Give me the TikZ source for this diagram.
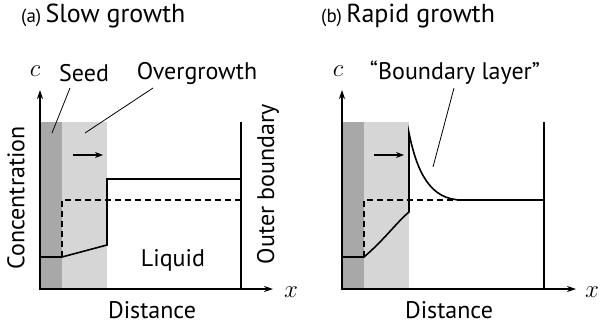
\documentclass[tikz,border=0pt]{standalone}
\usepackage{fontspec}
\setmainfont{PT Sans}
\usetikzlibrary{arrows.meta,positioning}

\definecolor{seedgray}{RGB}{168,168,168}
\definecolor{overgray}{RGB}{214,214,214}

\begin{document}
\begin{tikzpicture}[x=1pt,y=-1pt,
    axis/.style={{Stealth[length=9pt,width=6pt]}-{Stealth[length=9pt,width=6pt]},
                 line width=1.3pt, line join=miter},
    prof/.style={line width=1.6pt, line join=miter},
    bulk/.style={line width=1.4pt, dashed, dash pattern=on 6pt off 4pt},
    wall/.style={line width=1.2pt},
    leader/.style={line width=0.8pt},
    move/.style={-{Stealth[length=8pt,width=6pt]}, line width=1.2pt},
    lab/.style={font=\fontsize{24}{26}\selectfont, inner sep=1pt},
    sym/.style={font=\fontsize{24}{26}\selectfont, inner sep=1pt},
    title/.style={font=\fontsize{26}{28}\selectfont, inner sep=0pt, anchor=base west}
  ]
  \useasboundingbox (0,0) rectangle (600,324);

  % (a) slow growth
  \node[title] (aTitle) at (21,22) {{\fontsize{19}{21}\selectfont(a)}\,Slow growth};
  \fill[seedgray] (40,122) rectangle (62,289);
  \fill[overgray] (62,122) rectangle (107,289);
  \coordinate (aO) at (40,289);
  \coordinate (aYtip) at (40,90);
  \coordinate (aXtip) at (273,289);
  \draw[axis] (aYtip) |- (aXtip);
  \node[sym] (aC) at (35,71) {$c$};
  \node[sym] (aX) at (291,292) {$x$};
  \draw[wall] (241,122) -- (241,289);
  \draw[bulk] (62,257) -- (62,200) -- (241,200);
  \draw[prof] (40,257) -- (62,257) -- (107,245) -- (107,179) -- (241,179);
  \draw[move] (73,155) -- (103,155);
  \node[lab] (aSeed) at (84,73) {Seed};
  \node[lab] (aOver) at (197,73) {Overgrowth};
  \coordinate (aSeedEnd) at (52,133);
  \coordinate (aOverEnd) at (85,133);
  \draw[leader] (70,88) -- (aSeedEnd);
  \draw[leader] (153,88) -- (aOverEnd);
  \node[lab, rotate=90] (aConc) at (16,198) {Concentration};
  \node[lab, rotate=90] (aWall) at (268,184) {Outer boundary};
  \node[lab] (aLiq) at (173,260) {Liquid};
  \node[lab] (aDist) at (152,310) {Distance};

  % (b) rapid growth
  \node[title] (bTitle) at (321,22) {{\fontsize{19}{21}\selectfont(b)}\,Rapid growth};
  \fill[seedgray] (342,122) rectangle (364,289);
  \fill[overgray] (364,122) rectangle (409,289);
  \coordinate (bO) at (342,289);
  \coordinate (bYtip) at (342,90);
  \coordinate (bXtip) at (576,289);
  \draw[axis] (bYtip) |- (bXtip);
  \node[sym] (bC) at (338,71) {$c$};
  \node[sym] (bX) at (592,292) {$x$};
  \draw[wall] (544,122) -- (544,289);
  \draw[bulk] (364,257) -- (364,200) -- (462,200);
  \draw[prof] (342,257) -- (364,257)
    .. controls (384,240) and (397,222) .. (409,212) -- (409,133)
    .. controls (417,172) and (430,200) .. (462,200) -- (544,200);
  \draw[move] (374,155) -- (404,155);
  \node[lab] (bLayer) at (455,73) {“Boundary layer”};
  \coordinate (bLayerEnd) at (433,167);
  \draw[leader] (454,88) -- (bLayerEnd);
  \node[lab] (bDist) at (449,310) {Distance};
\end{tikzpicture}
\end{document}
